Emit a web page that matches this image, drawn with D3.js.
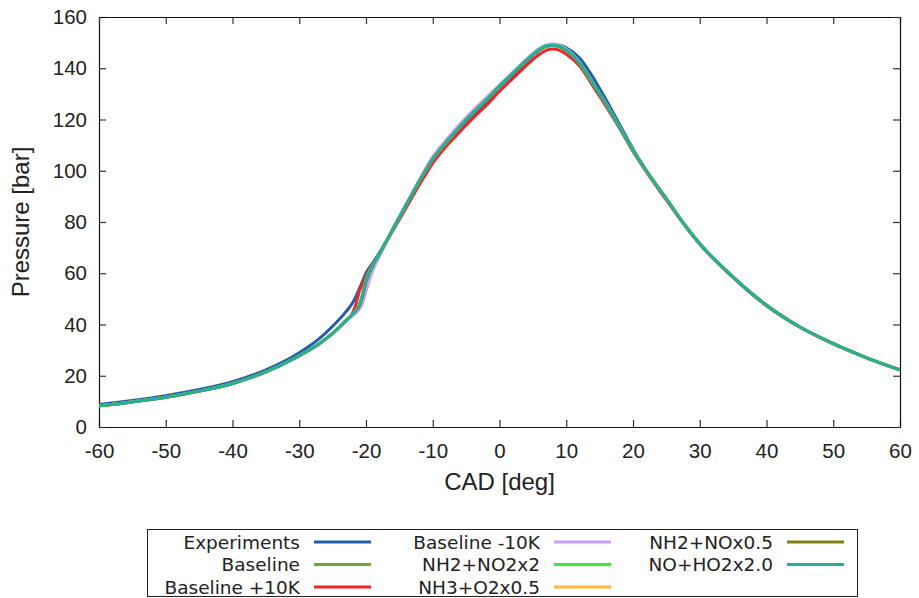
<!DOCTYPE html>
<html>
<head>
<meta charset="utf-8">
<script src="https://cdn.jsdelivr.net/npm/d3@7"></script>
<style>
  body { margin: 0; background: #fff; }
  text { font-family: "Liberation Sans", Arial, sans-serif; fill: #222; }
  text.leg { font-family: "DejaVu Sans", sans-serif; }
</style>
</head>
<body>
<div id="chart"></div>
<script>
// crank angle grid shared by every series
const cad = [-60,-55,-50,-45,-40,-35,-30,-27,-25,-23,-22,-21.5,-21,-20.5,-20,-19,-18,-16,-14,-12,-10,-8,-6,-4,-2,0,2,4,6,7,8,9,10,12,14,16,18,20,22,25,28,30,35,40,45,50,55,60];

const experiments = [8.8,10.3,12.2,14.6,17.7,22.3,29.0,34.5,39.3,45.0,48.5,51.0,54.0,57.0,60.0,64.0,68.0,77.0,86.5,95.5,104.0,110.5,116.0,121.5,127.0,132.5,137.5,142.5,147.0,148.5,149.0,149.0,148.0,144.0,136.5,127.5,118.0,108.5,100.0,89.0,78.0,71.5,58.5,47.5,39.0,32.5,27.0,22.3];
const baseline = [8.3,9.8,11.6,14.0,17.0,21.5,27.8,32.5,36.5,41.5,44.0,45.5,47.5,51.5,57.0,63.0,67.5,77.0,86.5,96.0,104.5,111.0,117.0,122.5,127.5,133.0,138.0,143.0,147.3,148.7,149.0,148.5,147.0,142.0,134.0,126.0,117.0,108.0,100.0,89.0,78.0,71.5,58.5,47.5,39.0,32.5,27.0,22.3];
const basePlus10 = [8.3,9.8,11.6,14.0,17.0,21.5,27.8,32.5,36.5,41.5,44.5,48.0,53.0,56.0,59.0,63.5,67.5,76.5,85.5,94.5,103.0,109.5,115.0,120.5,125.5,131.0,136.0,141.0,145.5,147.0,147.5,147.0,145.5,141.0,133.0,125.0,116.5,107.5,99.5,88.5,77.8,71.3,58.3,47.3,38.9,32.4,27.0,22.2];
const baseMinus10 = [8.3,9.8,11.6,14.0,17.0,21.5,27.8,32.5,36.5,41.3,43.5,44.5,46.0,48.5,53.0,61.0,66.5,77.5,87.0,96.5,105.5,112.0,118.0,123.5,128.5,133.5,138.5,143.5,147.8,149.0,149.5,149.0,147.5,142.3,134.2,126.1,117.1,108.1,100.0,89.0,78.0,71.5,58.5,47.5,39.0,32.5,27.0,22.3];
const nh2no2x2 = [8.3,9.8,11.6,14.0,17.0,21.5,27.8,32.5,36.5,41.5,44.0,45.6,47.8,52.0,57.5,63.2,67.6,77.0,86.5,96.0,104.5,111.0,117.0,122.5,127.5,133.0,138.0,143.0,147.4,148.8,149.1,148.6,147.1,142.0,134.0,126.0,117.0,108.0,100.0,89.0,78.0,71.5,58.5,47.5,39.0,32.5,27.0,22.3];
const nh3o2x05 = [8.3,9.8,11.6,14.0,17.0,21.5,27.8,32.5,36.5,41.5,44.0,45.4,47.3,51.2,56.8,62.9,67.4,77.0,86.5,96.0,104.5,111.0,117.0,122.5,127.5,133.0,138.0,143.0,147.2,148.6,148.9,148.4,146.9,142.0,134.0,126.0,117.0,108.0,100.0,89.0,78.0,71.5,58.5,47.5,39.0,32.5,27.0,22.3];
const nh2nox05 = [8.3,9.8,11.6,14.0,17.0,21.5,27.8,32.5,36.5,41.5,44.0,45.4,47.2,51.0,56.5,62.8,67.4,77.0,86.5,96.0,104.5,111.0,117.0,122.5,127.5,133.0,138.0,143.0,147.2,148.6,148.9,148.4,146.9,142.0,134.0,126.0,117.0,108.0,100.0,89.0,78.0,71.5,58.5,47.5,39.0,32.5,27.0,22.3];
const noho2x2 = [8.3,9.8,11.6,14.0,17.0,21.5,27.8,32.5,36.5,41.5,44.0,45.5,47.6,51.8,57.2,63.0,67.5,77.0,86.5,96.0,104.5,111.0,117.0,122.5,127.5,133.0,138.0,143.0,147.3,148.7,149.0,148.5,147.0,142.0,134.0,126.0,117.0,108.0,100.0,89.0,78.0,71.5,58.5,47.5,39.0,32.5,27.0,22.3];

const seriesNames = ["Experiments","Baseline","Baseline +10K","Baseline -10K","NH2+NO2x2","NH3+O2x0.5","NH2+NOx0.5","NO+HO2x2.0"];
const seriesValues = [experiments, baseline, basePlus10, baseMinus10, nh2no2x2, nh3o2x05, nh2nox05, noho2x2];
const seriesColors = ["#1f5ea8","#6aa83a","#f02525","#c8a0ff","#33ee33","#ffb833","#808010","#25b09c"];

const xTicks = [-60,-50,-40,-30,-20,-10,0,10,20,30,40,50,60];
const yTicks = [0,20,40,60,80,100,120,140,160];

// plot area
const margin = {top: 17, right: 19, bottom: 171, left: 99},
    width = 919 - margin.left - margin.right,
    height = 598 - margin.top - margin.bottom;

const svg = d3.select("#chart")
  .append("svg")
    .attr("width", 919)
    .attr("height", 598);

const g = svg.append("g")
    .attr("transform", `translate(${margin.left}, ${margin.top})`);

const x = d3.scaleLinear().domain([-60, 60]).range([0, width]);
const y = d3.scaleLinear().domain([0, 160]).range([height, 0]);

// axes, ticks pointing inward on all four sides
const tickLen = 7;
const fmt = d => String(d); // plain hyphen, like the original
g.append("g")
  .attr("transform", `translate(0, ${height})`)
  .call(d3.axisBottom(x).tickValues(xTicks).tickFormat(fmt).tickSizeInner(-tickLen).tickSizeOuter(0).tickPadding(16))
  .call(a => a.selectAll("text").attr("font-size", "20.5px"));
g.append("g")
  .call(d3.axisLeft(y).tickValues(yTicks).tickFormat(fmt).tickSizeInner(-tickLen).tickSizeOuter(0).tickPadding(12))
  .call(a => a.selectAll("text").attr("font-size", "20.5px"));
g.append("g")
  .call(d3.axisTop(x).tickValues(xTicks).tickSizeInner(-tickLen).tickSizeOuter(0).tickFormat(""));
g.append("g")
  .attr("transform", `translate(${width}, 0)`)
  .call(d3.axisRight(y).tickValues(yTicks).tickSizeInner(-tickLen).tickSizeOuter(0).tickFormat(""));
g.selectAll(".domain").attr("stroke", "#111").attr("stroke-width", 1.2);
g.selectAll(".tick line").attr("stroke", "#333").attr("stroke-width", 1.2);
g.selectAll(".tick text").attr("fill", "#222");

// axis titles
g.append("text")
  .attr("x", -(height / 2))
  .attr("y", -70)
  .attr("font-size", "24px")
  .attr("text-anchor", "middle")
  .attr("transform", "rotate(-90)")
  .text("Pressure [bar]");
g.append("text")
  .attr("x", width / 2)
  .attr("y", height + 63)
  .attr("font-size", "24px")
  .attr("text-anchor", "middle")
  .text("CAD [deg]");

// curves
g.append("clipPath").attr("id", "clip")
  .append("rect").attr("width", width).attr("height", height);

const line = d3.line()
  .x(d => x(d[0]))
  .y(d => y(d[1]))
  .curve(d3.curveMonotoneX);

g.append("g").attr("clip-path", "url(#clip)")
  .selectAll("path")
  .data(seriesValues)
  .join("path")
    .attr("d", vals => line(cad.map((c, i) => [c, vals[i]])))
    .attr("fill", "none")
    .attr("stroke", (d, i) => seriesColors[i])
    .attr("stroke-width", 3)
    .attr("stroke-linejoin", "round");

// legend
const legend = svg.append("g");
legend.append("rect")
  .attr("x", 147.5).attr("y", 529.5)
  .attr("width", 710).attr("height", 67)
  .attr("fill", "#fff").attr("stroke", "#222").attr("stroke-width", 1);

const colText = [300, 540, 773];
seriesNames.forEach((name, i) => {
  const col = Math.floor(i / 3), row = i % 3;
  const cy = 542 + row * 22.5;
  legend.append("text")
    .attr("class", "leg")
    .attr("x", colText[col])
    .attr("y", cy + 6.5)
    .attr("font-size", "18.5px")
    .attr("text-anchor", "end")
    .text(name);
  legend.append("line")
    .attr("x1", colText[col] + 14).attr("x2", colText[col] + 71)
    .attr("y1", cy).attr("y2", cy)
    .attr("stroke", seriesColors[i])
    .attr("stroke-width", 3);
});
</script>
</body>
</html>
